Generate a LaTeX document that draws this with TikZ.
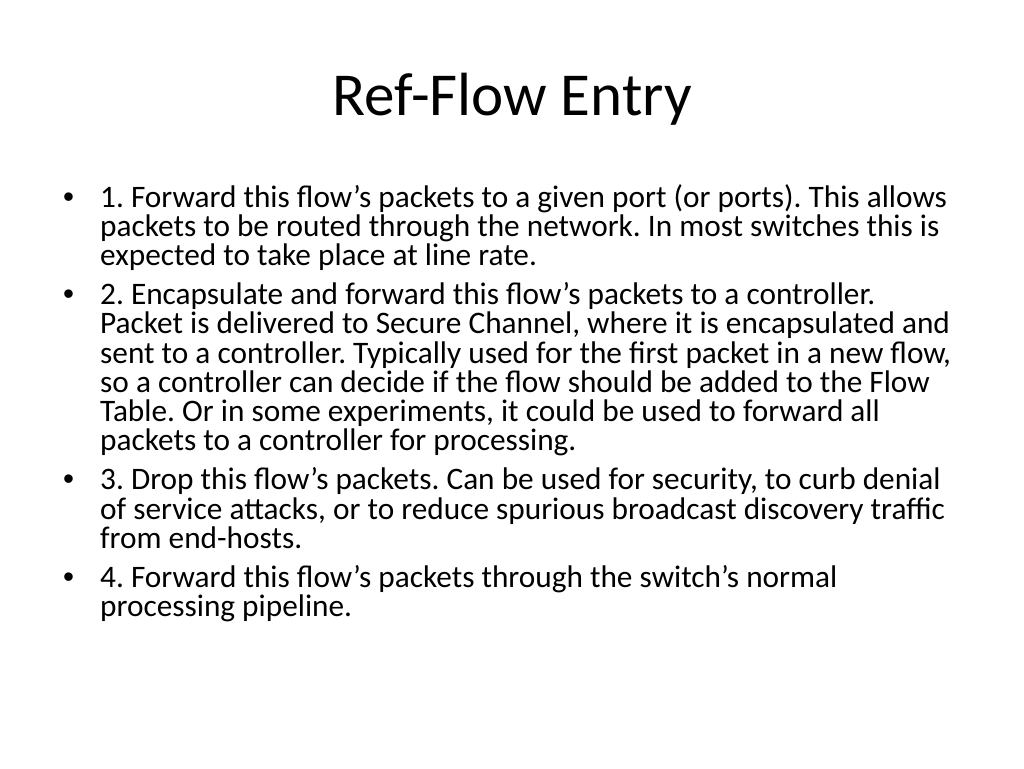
\documentclass[tikz,border=0pt]{standalone}
\usepackage{fontspec}
\setmainfont{Carlito}
\newfontfamily\bulletfont{Liberation Sans}
\usepackage{tikz}
\frenchspacing

\tikzset{
  slidetitle/.style={inner sep=0pt, anchor=base, font=\fontsize{61}{73}\selectfont},
  itemtext/.style={inner sep=0pt, anchor=base west, align=left,
    font=\fontsize{31.3}{29.1}\selectfont},
  bulletmark/.style={inner sep=0pt, anchor=base west, font=\bulletfont\fontsize{31.3}{29.1}\selectfont}
}

\begin{document}
\begin{tikzpicture}[x=1pt,y=-1pt]
      % Draw the slide
      \fill[white] (0,0) rectangle (1024,768);
      \useasboundingbox (0,0) rectangle (1024,768);

      % Title
      \node[slidetitle] (title) at (512,115) {Ref-Flow Entry};

      % Place the items (anchored at the baseline of their last line)
      \node[itemtext] (item1) at (100,265.2) {1. Forward this flow’s packets to a given port (or ports). This allows\\
        packets to be routed through the network. In most switches this is\\
        expected to take place at line rate.};
      \node[itemtext] (item2) at (100,450.3) {2. Encapsulate and forward this flow’s packets to a controller.\\
        Packet is delivered to Secure Channel, where it is encapsulated and\\
        sent to a controller. Typically used for the first packet in a new flow,\\
        so a controller can decide if the flow should be added to the Flow\\
        Table. Or in some experiments, it could be used to forward all\\
        packets to a controller for processing.};
      \node[itemtext] (item3) at (100,548.1) {3. Drop this flow’s packets. Can be used for security, to curb denial\\
        of service attacks, or to reduce spurious broadcast discovery traffic\\
        from end-hosts.};
      \node[itemtext] (item4) at (100,616.8) {4. Forward this flow’s packets through the switch’s normal\\
        processing pipeline.};

      % Bullets on the first line of each item
      \foreach \i/\y in {1/207,2/304.8,3/489.9,4/587.7} {
        \node[bulletmark] (dot\i) at (63,\y) {•};
      }
    \end{tikzpicture}
\end{document}
